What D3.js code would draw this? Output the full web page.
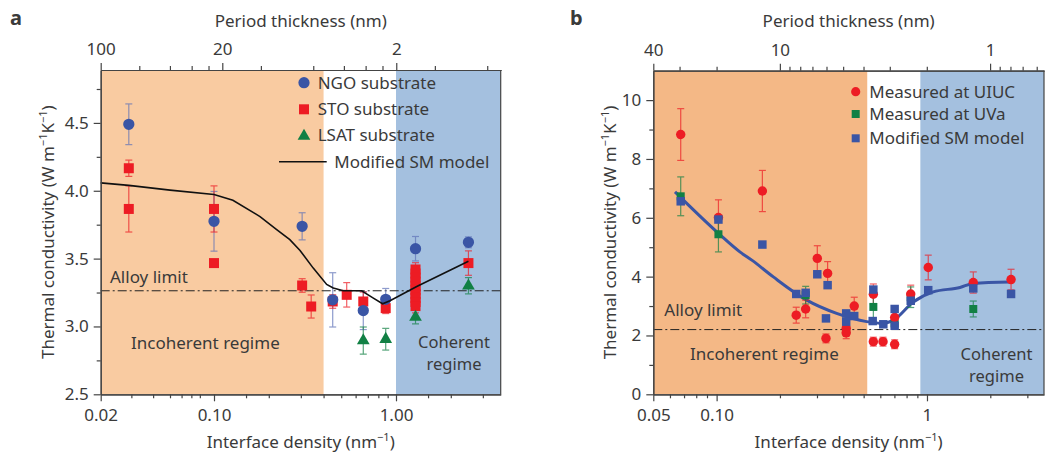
<!DOCTYPE html>
<meta charset="utf-8">
<script src="https://d3js.org/d3.v7.min.js"></script>
<style>
  body { margin: 0; background: #fff; }
  text { font-family: "Noto Sans", sans-serif; fill: #3a3a3a; }
</style>
<div id="chart"></div>
<script>

// ---------- panel a data (interface density nm^-1, thermal conductivity) ----------
var ngoX   = [0.029, 0.1,   0.305, 0.449, 0.661, 0.878, 1.28,  2.5];
var ngoY   = [4.49,  3.775, 3.738, 3.196, 3.117, 3.20,  3.573, 3.62];
var ngoErr = [0.15,  0.22,  0.10,  0.20,  0.14,  0.08,  0.09,  0.04];

var stoX   = [0.029, 0.029, 0.1,  0.1,   0.305, 0.342, 0.449, 0.536, 0.661, 0.878,
              1.28, 1.28, 1.28, 1.28, 1.28, 1.28, 1.28, 1.28, 1.28, 1.28, 2.5];
var stoY   = [4.166, 3.866, 3.866, 3.467, 3.302, 3.147, 3.184, 3.233, 3.184, 3.135,
              3.42, 3.39, 3.36, 3.33, 3.30, 3.27, 3.24, 3.21, 3.18, 3.15, 3.467];
var stoErr = [0.06, 0.17, 0.17, 0, 0.05, 0.085, 0.05, 0.09, 0.07, 0.04,
              0.05, 0.05, 0.05, 0.05, 0.05, 0.05, 0.05, 0.05, 0.05, 0.05, 0.09];

var lsatX   = [0.661, 0.878, 1.28,  2.5];
var lsatY   = [2.896, 2.906, 3.069, 3.30];
var lsatErr = [0.10,  0.08,  0.05,  0.06];

var modelAX = [0.02, 0.029, 0.05, 0.1, 0.127, 0.179, 0.221, 0.261, 0.297, 0.351,
               0.416, 0.452, 0.513, 0.647, 0.751, 0.844, 0.927, 1.30, 2.5];
var modelAY = [4.058, 4.04, 4.005, 3.972, 3.93, 3.81, 3.714, 3.64, 3.56, 3.43,
               3.31, 3.283, 3.263, 3.263, 3.209, 3.167, 3.19, 3.295, 3.48];

var alloyA = 3.263;
var incoherentA = [0.02, 0.4], coherentA = [1, 3.76];

// ---------- panel b data ----------
var uiucX   = [0.0675, 0.102, 0.165, 0.239, 0.265, 0.301, 0.337, 0.331, 0.413, 0.413,
               0.451, 0.556, 0.556, 0.618, 0.702, 0.702, 0.837, 1.014, 1.66, 2.51];
var uiucY   = [8.83, 6.01, 6.91, 2.69, 2.9, 4.62, 4.11, 1.9, 2.24, 2.09,
               3.0, 3.4, 1.79, 1.79, 2.61, 1.7, 3.41, 4.31, 3.8, 3.9];
var uiucErr = [0.88, 0.6, 0.7, 0.27, 0.3, 0.43, 0.4, 0.15, 0.25, 0.2,
               0.3, 0.35, 0.15, 0.15, 0.25, 0.15, 0.3, 0.42, 0.36, 0.35];

var uvaX   = [0.0675, 0.102, 0.265, 0.413, 0.556, 0.702, 0.837, 1.66];
var uvaY   = [6.73,   5.44,  3.37,  2.2,   2.97,  2.41,  3.3,   2.9];
var uvaErr = [0.66,   0.6,   0.3,   0.2,   0.57,  0.2,   0.35,  0.27];

var smX = [0.0675, 0.102, 0.165, 0.239, 0.265, 0.301, 0.337, 0.331, 0.413, 0.413,
           0.451, 0.556, 0.552, 0.62, 0.702, 0.702, 0.837, 1.014, 1.66, 2.51];
var smY = [6.56, 5.94, 5.09, 3.41, 3.45, 4.08, 3.71, 2.58, 2.75, 2.47,
           2.66, 3.56, 2.49, 2.38, 2.9, 2.33, 3.18, 3.54, 3.6, 3.41];

var modelBX = [0.0634, 0.102, 0.129, 0.147, 0.186, 0.268, 0.372, 0.517, 0.62, 0.692,
               0.861, 1.071, 1.435, 1.66, 2.48];
var modelBY = [6.88, 5.47, 4.84, 4.56, 3.99, 3.2, 2.75, 2.47, 2.41, 2.52,
               3.14, 3.48, 3.63, 3.77, 3.82];

var alloyB = 2.2;
var incoherentB = [0.05, 0.52], coherentB = [0.93, 3.6];

// ---------- colours ----------
var blue = "#3a55a5", red = "#ed1c24", green = "#118044";
var axisCol = "#444";

var svg = d3.select("#chart").append("svg")
    .attr("width", 1045).attr("height", 452);

// ---------- scales ----------
var xA = d3.scaleLog().domain([0.02, 0.05, 0.1, 1, 3.76]).range([100.7, 170, 214, 396, 500.7]);
var xAtop = d3.scaleLog().domain([100, 0.5]).range([100.7, 501]);
var yA = d3.scaleLinear().domain([2.5, 4.89]).range([394.3, 70]);

var xB = d3.scaleLog().domain([0.05, 3.6]).range([653.3, 1044]);
var xBtop = d3.scaleLog().domain([40, 0.554]).range([653.3, 1044]);
var yB = d3.scaleLinear().domain([0, 11]).range([394.3, 70.7]);

function zip(xs, ys, es) {
  return xs.map(function(d, i) { return {x: d, y: ys[i], e: es ? es[i] : 0}; });
}

function regions(g, x, y, inc, coh, incCol) {
  g.append("rect")
    .attr("x", x(inc[0])).attr("width", x(inc[1]) - x(inc[0]))
    .attr("y", y.range()[1]).attr("height", y.range()[0] - y.range()[1])
    .attr("fill", incCol);
  g.append("rect")
    .attr("x", x(coh[0])).attr("width", x(coh[1]) - x(coh[0]))
    .attr("y", y.range()[1]).attr("height", y.range()[0] - y.range()[1])
    .attr("fill", "#a4c0df");
}

function alloyLine(g, x, y, v) {
  g.append("line")
    .attr("x1", x.range()[0]).attr("x2", x.range()[x.range().length - 1])
    .attr("y1", y(v)).attr("y2", y(v))
    .attr("stroke", "#222").attr("stroke-width", 1)
    .attr("stroke-dasharray", "9,3,2,3");
}

function errorBars(g, data, x, y, col) {
  var e = g.append("g").attr("stroke", col).attr("stroke-width", 1.2).attr("opacity", 0.7);
  data.filter(function(d) { return d.e > 0; }).forEach(function(d) {
    var cx = x(d.x);
    e.append("line").attr("x1", cx).attr("x2", cx).attr("y1", y(d.y - d.e)).attr("y2", y(d.y + d.e));
    e.append("line").attr("x1", cx - 3.5).attr("x2", cx + 3.5).attr("y1", y(d.y - d.e)).attr("y2", y(d.y - d.e));
    e.append("line").attr("x1", cx - 3.5).attr("x2", cx + 3.5).attr("y1", y(d.y + d.e)).attr("y2", y(d.y + d.e));
  });
}

function symbols(g, data, x, y, type, size, col) {
  g.selectAll(null).data(data).enter().append("path")
    .attr("d", d3.symbol().type(type).size(size))
    .attr("transform", function(d) { return "translate(" + x(d.x) + "," + y(d.y) + ")"; })
    .attr("fill", col);
}

function axes(g, c) {
  var x0 = c.x.range()[0], x1 = c.x.range()[c.x.range().length - 1];
  var y0 = c.y.range()[0], y1 = c.y.range()[1];
  var b = g.append("g").attr("transform", "translate(0," + y0 + ")");
  b.call(d3.axisBottom(c.x).tickValues(c.bMinor).tickSize(4).tickSizeOuter(0).tickFormat(""));
  b.append("g").call(d3.axisBottom(c.x).tickValues(c.bMajor).tickSize(7).tickSizeOuter(0).tickPadding(8)
    .tickFormat(function(d, i) { return c.bLabels[i]; }));
  var t = g.append("g").attr("transform", "translate(0," + y1 + ")");
  t.call(d3.axisTop(c.xt).tickValues(c.tMinor).tickSize(4).tickSizeOuter(0).tickFormat(""));
  t.append("g").call(d3.axisTop(c.xt).tickValues(c.tMajor).tickSize(7).tickSizeOuter(0).tickPadding(8)
    .tickFormat(function(d, i) { return c.tLabels[i]; }));
  var l = g.append("g").attr("transform", "translate(" + x0 + ",0)");
  l.call(d3.axisLeft(c.y).tickValues(c.yMinor).tickSize(4).tickSizeOuter(0).tickFormat(""));
  l.append("g").call(d3.axisLeft(c.y).tickValues(c.yMajor).tickSize(7).tickSizeOuter(0).tickPadding(5)
    .tickFormat(c.yFmt));
  g.append("line").attr("x1", x1).attr("x2", x1).attr("y1", y1).attr("y2", y0)
    .attr("stroke", axisCol).attr("stroke-width", 1.2);
  g.selectAll(".domain, .tick line").attr("stroke", axisCol).attr("stroke-width", 1.2);
  g.selectAll(".tick text").attr("font-size", 17).attr("font-family", "Noto Sans").attr("fill", "#3a3a3a");

  var mid = (x0 + x1) / 2;
  g.append("text").attr("x", mid).attr("y", 27).attr("text-anchor", "middle")
    .attr("font-size", 17).text("Period thickness (nm)");
  var xt = g.append("text").attr("x", mid).attr("y", 448).attr("text-anchor", "middle").attr("font-size", 17);
  xt.append("tspan").text("Interface density (nm");
  xt.append("tspan").attr("dy", -7).attr("font-size", 11).text("\u22121");
  xt.append("tspan").attr("dy", 7).text(")");
  var yt = g.append("text").attr("transform", "translate(" + c.yTitleX + "," + ((y0 + y1) / 2) + ") rotate(-90)")
    .attr("text-anchor", "middle").attr("font-size", 17);
  yt.append("tspan").text("Thermal conductivity (W m");
  yt.append("tspan").attr("dy", -7).attr("font-size", 11).text("\u22121");
  yt.append("tspan").attr("dy", 7).text("K");
  yt.append("tspan").attr("dy", -7).attr("font-size", 11).text("\u22121");
  yt.append("tspan").attr("dy", 7).text(")");
  g.append("text").attr("x", c.labelX).attr("y", 25).attr("font-size", 20).attr("font-weight", "bold")
    .attr("fill", "#222").text(c.label);
}

function label(g, x, y, txt, anchor, size) {
  g.append("text").attr("x", x).attr("y", y).attr("font-size", size || 17)
    .attr("text-anchor", anchor || "start").text(txt);
}

// ================= panel a =================
var ga = svg.append("g");
regions(ga, xA, yA, incoherentA, coherentA, "#f9cba1");
alloyLine(ga, xA, yA, alloyA);

var ngo = zip(ngoX, ngoY, ngoErr), sto = zip(stoX, stoY, stoErr), lsat = zip(lsatX, lsatY, lsatErr);
errorBars(ga, ngo, xA, yA, "#5f72b8");
errorBars(ga, sto, xA, yA, red);
errorBars(ga, lsat, xA, yA, green);
symbols(ga, sto, xA, yA, d3.symbolSquare, 100, red);
symbols(ga, ngo, xA, yA, d3.symbolCircle, 100, blue);
symbols(ga, lsat, xA, yA, d3.symbolTriangle, 70, green);

ga.append("path")
  .datum(zip(modelAX, modelAY))
  .attr("fill", "none").attr("stroke", "#111").attr("stroke-width", 1.6)
  .attr("d", d3.line().x(function(d) { return xA(d.x); }).y(function(d) { return yA(d.y); }));

label(ga, 110, 283, "Alloy limit");
label(ga, 131, 349, "Incoherent regime");
label(ga, 454, 347.5, "Coherent", "middle", 16.5);
label(ga, 454, 370, "regime", "middle", 16.5);

// legend a
ga.append("circle").attr("cx", 304).attr("cy", 82.7).attr("r", 5.6).attr("fill", blue);
ga.append("rect").attr("x", 299).attr("y", 104.3).attr("width", 10).attr("height", 10).attr("fill", red);
ga.append("path").attr("d", d3.symbol().type(d3.symbolTriangle).size(70)).attr("transform", "translate(304,136)").attr("fill", green);
ga.append("line").attr("x1", 279).attr("x2", 326.7).attr("y1", 161.7).attr("y2", 161.7).attr("stroke", "#111").attr("stroke-width", 1.6);
label(ga, 317.7, 88.5, "NGO substrate");
label(ga, 317.7, 115, "STO substrate");
label(ga, 317.7, 141, "LSAT substrate");
label(ga, 334.3, 168, "Modified SM model");

axes(ga, {
  x: xA, xt: xAtop, y: yA,
  bMajor: [0.02, 0.1, 1], bLabels: ["0.02", "0.10", "1.00"],
  bMinor: [0.03, 0.04, 0.05, 0.06, 0.07, 0.08, 0.15, 0.2, 0.3, 0.4, 0.5, 0.6, 0.7, 0.8, 0.9, 1.5, 2, 3],
  tMajor: [100, 20, 2], tLabels: ["100", "20", "2"],
  tMinor: [60, 40, 30, 24, 12, 6, 4, 3, 2.4, 1.2, 0.6],
  yMajor: [2.5, 3, 3.5, 4, 4.5], yMinor: [2.75, 3.25, 3.75, 4.25, 4.75], yFmt: d3.format(".1f"),
  yTitleX: 54, labelX: 10, label: "a"
});

// ================= panel b =================
var gb = svg.append("g");
regions(gb, xB, yB, incoherentB, coherentB, "#f4b886");
alloyLine(gb, xB, yB, alloyB);

gb.append("path")
  .datum(zip(modelBX, modelBY))
  .attr("fill", "none").attr("stroke", blue).attr("stroke-width", 3)
  .attr("d", d3.line().curve(d3.curveMonotoneX).x(function(d) { return xB(d.x); }).y(function(d) { return yB(d.y); }));

var uiuc = zip(uiucX, uiucY, uiucErr), uva = zip(uvaX, uvaY, uvaErr), sm = zip(smX, smY);
errorBars(gb, uiuc, xB, yB, red);
errorBars(gb, uva, xB, yB, green);
symbols(gb, uva, xB, yB, d3.symbolSquare, 64, green);
symbols(gb, uiuc, xB, yB, d3.symbolCircle, 70, red);
symbols(gb, sm, xB, yB, d3.symbolSquare, 72, blue);

label(gb, 664.3, 316, "Alloy limit");
label(gb, 690, 360, "Incoherent regime");
label(gb, 996.5, 359.5, "Coherent", "middle", 16.5);
label(gb, 996.5, 382, "regime", "middle", 16.5);

// legend b
gb.append("circle").attr("cx", 855.7).attr("cy", 91.7).attr("r", 4.6).attr("fill", red);
gb.append("rect").attr("x", 851.7).attr("y", 110).attr("width", 8).attr("height", 8).attr("fill", green);
gb.append("rect").attr("x", 851.7).attr("y", 134.3).attr("width", 8).attr("height", 8).attr("fill", blue);
label(gb, 869.3, 97.5, "Measured at UIUC");
label(gb, 869.3, 120, "Measured at UVa");
label(gb, 869.3, 144, "Modified SM model");

axes(gb, {
  x: xB, xt: xBtop, y: yB,
  bMajor: [0.05, 0.1, 1], bLabels: ["0.05", "0.10", "1"],
  bMinor: [0.06, 0.07, 0.08, 0.09, 0.2, 0.3, 0.4, 0.5, 0.6, 0.7, 0.8, 0.9, 2, 3],
  tMajor: [40, 10, 1], tLabels: ["40", "10", "1"],
  tMinor: [30, 20, 9, 8, 7, 6, 5, 4, 3, 2, 0.9, 0.8, 0.7, 0.6],
  yMajor: [0, 2, 4, 6, 8, 10], yMinor: [1, 3, 5, 7, 9], yFmt: d3.format("d"),
  yTitleX: 616, labelX: 570, label: "b"
});

</script>
